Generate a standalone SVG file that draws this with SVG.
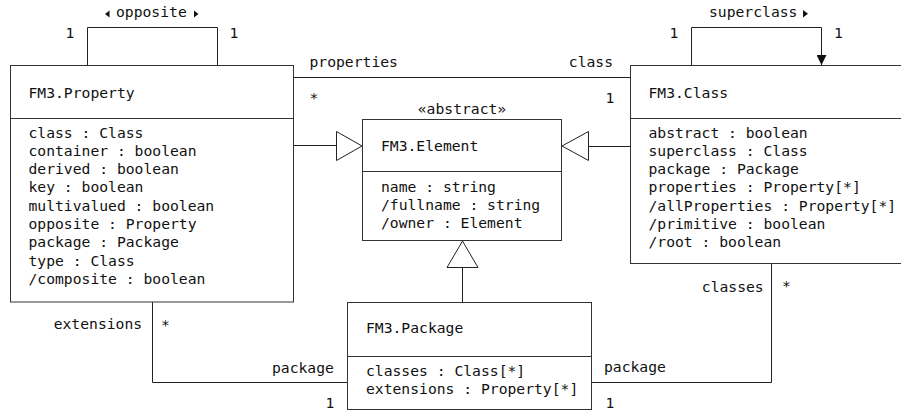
<svg xmlns="http://www.w3.org/2000/svg" width="901" height="411" viewBox="0 0 901 411">
<style>
  text { font-family: "DejaVu Sans Mono", "Liberation Mono", monospace; font-size: 14.7px; fill: #111; }
  .box { fill: #fff; stroke: #333; stroke-width: 1; }
  .div { stroke: #333; stroke-width: 1; fill: none; }
  .con { fill: none; stroke: #222; stroke-width: 1; }
  .gen { fill: #fff; stroke: #222; stroke-width: 1; }
  .ind { fill: #111; stroke: none; }
</style>
<defs>
  <marker id="nav" viewBox="0 0 10 10" refX="10" refY="5" markerWidth="10" markerHeight="10" markerUnits="userSpaceOnUse" orient="auto">
    <path d="M0,0 L10,5 L0,10 Z" fill="#111"/>
  </marker>
</defs>

<g id="connectors">
  <path class="con" d="M87.5,65.5 V27.5 H217.5 V65.5"/>
  <path class="con" d="M691.5,65.5 V27.5 H821.5 V65" marker-end="url(#nav)"/>
  <path class="con" d="M294,77.5 H630"/>
  <path class="con" d="M294,145.5 H336"/>
  <polygon class="gen" points="336.5,131.5 362,146 336.5,160.5"/>
  <path class="con" d="M630,146.5 H588"/>
  <polygon class="gen" points="588.5,131.5 562,146 588.5,160.5"/>
  <path class="con" d="M462.5,302 V267"/>
  <polygon class="gen" points="447,267.5 462.5,241 478,267.5"/>
  <path class="con" d="M152.5,302 V382.5 H347"/>
  <path class="con" d="M771.5,263.5 V382.5 H592"/>
</g>

<g id="labels">
  <polygon class="ind" points="109.5,10.5 105,14 109.5,17.5"/>
  <text x="116" y="17">opposite</text>
  <polygon class="ind" points="194,10.5 198.5,14 194,17.5"/>
  <text x="65.5" y="38.3">1</text>
  <text x="229.5" y="38.3">1</text>
  <text x="709" y="17">superclass</text>
  <polygon class="ind" points="803,10 808,13.7 803,17.5"/>
  <text x="669.5" y="38.3">1</text>
  <text x="834" y="38.3">1</text>
  <text x="309.5" y="67">properties</text>
  <text x="309.5" y="103.3">*</text>
  <text x="568.8" y="67">class</text>
  <text x="605.5" y="103.3">1</text>
  <text x="53.7" y="329">extensions</text>
  <text x="161" y="330">*</text>
  <text x="272" y="372.5">package</text>
  <text x="325.5" y="408.3">1</text>
  <text x="701.8" y="291.7">classes</text>
  <text x="782" y="291">*</text>
  <text x="604" y="372">package</text>
  <text x="605.5" y="408.3">1</text>
</g>

<g id="FM3.Property">
  <rect class="box" x="10.5" y="65.5" width="283" height="236.5"/>
  <path class="div" d="M10.5,118.5 H293.5"/>
  <text x="28.5" y="97.7">FM3.Property</text>
  <text x="28.5" y="137.5">class : Class</text>
  <text x="28.5" y="155.8">container : boolean</text>
  <text x="28.5" y="174.1">derived : boolean</text>
  <text x="28.5" y="192.4">key : boolean</text>
  <text x="28.5" y="210.7">multivalued : boolean</text>
  <text x="28.5" y="229">opposite : Property</text>
  <text x="28.5" y="247.3">package : Package</text>
  <text x="28.5" y="265.6">type : Class</text>
  <text x="28.5" y="283.9">/composite : boolean</text>
</g>

<g id="FM3.Class">
  <rect class="box" x="630.5" y="65.5" width="280" height="198"/>
  <path class="div" d="M630.5,118.5 H910.5"/>
  <text x="648.5" y="97.7">FM3.Class</text>
  <text x="648.5" y="137.5">abstract : boolean</text>
  <text x="648.5" y="155.8">superclass : Class</text>
  <text x="648.5" y="174.1">package : Package</text>
  <text x="648.5" y="192.4">properties : Property[*]</text>
  <text x="648.5" y="210.7">/allProperties : Property[*]</text>
  <text x="648.5" y="229">/primitive : boolean</text>
  <text x="648.5" y="247.3">/root : boolean</text>
</g>

<g id="FM3.Element">
  <text x="462" y="113.5" text-anchor="middle">«abstract»</text>
  <rect class="box" x="362.5" y="119.5" width="199" height="121"/>
  <path class="div" d="M362.5,171.5 H561.5"/>
  <text x="381" y="151">FM3.Element</text>
  <text x="381" y="191.5">name : string</text>
  <text x="381" y="209.8">/fullname : string</text>
  <text x="381" y="228.1">/owner : Element</text>
</g>

<g id="FM3.Package">
  <rect class="box" x="347.5" y="302.5" width="244" height="107"/>
  <path class="div" d="M347.5,356.5 H591.5"/>
  <text x="366" y="333">FM3.Package</text>
  <text x="366" y="376">classes : Class[*]</text>
  <text x="366" y="394">extensions : Property[*]</text>
</g>
</svg>
